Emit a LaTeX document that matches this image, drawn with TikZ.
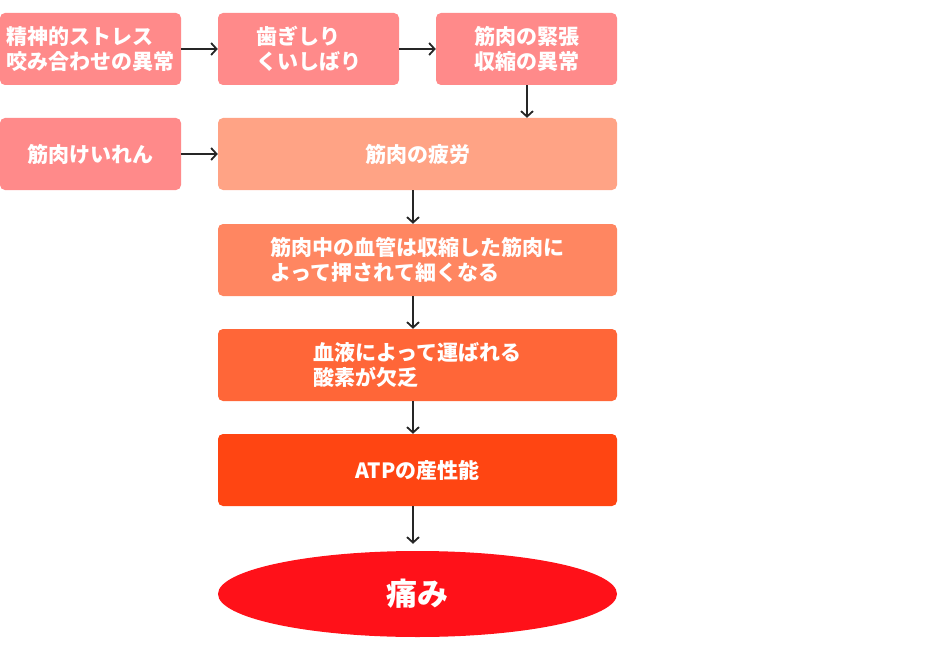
\documentclass[tikz,border=0pt]{standalone}
\usepackage{fontspec}
\setmainfont{Noto Sans CJK JP}
\usetikzlibrary{arrows.meta,shapes.geometric}
\definecolor{cpink}{HTML}{FF8A8A}
\definecolor{csalmon}{HTML}{FFA385}
\definecolor{corange}{HTML}{FF8661}
\definecolor{cdeep}{HTML}{FF6638}
\definecolor{cred}{HTML}{FF4512}
\definecolor{cpain}{HTML}{FF1119}
\definecolor{carrow}{HTML}{262626}
\tikzset{
  boxnode/.style={rounded corners=5pt, inner sep=0pt, text=white, align=left,
    font=\fontsize{21}{25}\selectfont\bfseries},
  smallbox/.style={boxnode, minimum width=181pt, minimum height=72pt},
  widebox/.style={boxnode, minimum width=399pt, minimum height=72pt},
  conn/.style={draw=carrow, line width=1.8pt, -{Straight Barb[length=5.5pt,width=12pt]}},
}
\begin{document}
\begin{tikzpicture}[x=1pt,y=-1pt]
\useasboundingbox (0,0) rectangle (950,650);
\node[smallbox, fill=cpink] (a) at (90.5,49) {精神的ストレス\\咬み合わせの異常};
\node[smallbox, fill=cpink] (b) at (308.5,49) {歯ぎしり\\くいしばり};
\node[smallbox, fill=cpink] (c) at (526.5,49) {筋肉の緊張\\収縮の異常};
\node[smallbox, fill=cpink] (d) at (90.5,154) {筋肉けいれん};
\node[widebox, fill=csalmon] (e) at (417.5,154) {筋肉の疲労};
\node[widebox, fill=corange] (f) at (417.5,260) {筋肉中の血管は収縮した筋肉に\\よって押されて細くなる};
\node[widebox, fill=cdeep] (g) at (417.5,365) {血液によって運ばれる\\酸素が欠乏};
\node[widebox, fill=cred] (h) at (417.5,470) {ATPの産性能};
\node[ellipse, fill=cpain, minimum width=399pt, minimum height=86pt, inner sep=0pt,
  text=white, font=\fontsize{31}{34}\selectfont\bfseries] (p) at (417.5,594) {痛み};
\draw[conn] (a) -- (b);
\draw[conn] (b) -- (c);
\draw[conn] (c.south -| 527,0) -- (e.north -| 527,0);
\draw[conn] (d) -- (e);
\draw[conn] (e.south -| 413,0) -- (f.north -| 413,0);
\draw[conn] (f.south -| 413,0) -- (g.north -| 413,0);
\draw[conn] (g.south -| 413,0) -- (h.north -| 413,0);
\draw[conn, shorten >=7pt] (h.south -| 413,0) -- (p.north -| 413,0);
\end{tikzpicture}
\end{document}
